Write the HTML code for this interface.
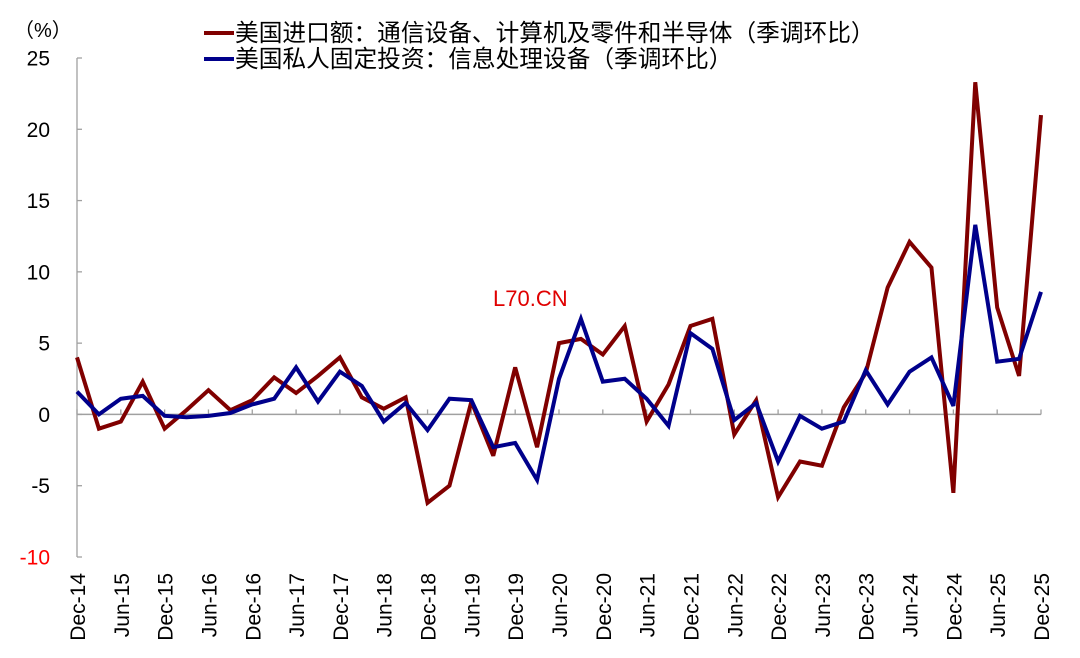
<!DOCTYPE html>
<html><head><meta charset="utf-8"><style>
html,body{margin:0;padding:0;background:#fff;}
svg{display:block;font-family:"Liberation Sans","Noto Sans CJK SC",sans-serif;}
</style></head><body>
<svg id="chart" width="1080" height="658" viewBox="0 0 1080 658">
<text x="14" y="37" font-size="20" fill="#000">（%）</text>
<g>
<line x1="204" y1="33" x2="234" y2="33" stroke="#800000" stroke-width="4"/>
<text x="235" y="41" font-size="23.7" fill="#000">美国进口额：通信设备、计算机及零件和半导体（季调环比）</text>
<line x1="204" y1="59" x2="234" y2="59" stroke="#00008B" stroke-width="4"/>
<text x="235" y="67" font-size="23.7" fill="#000">美国私人固定投资：信息处理设备（季调环比）</text>
</g>
<text x="493" y="306" font-size="22" fill="#e00000">L70.CN</text>
<g id="axes"></g>
<g id="series"></g>
</svg>
<script>
const categories = ["Dec-14","Mar-15","Jun-15","Sep-15","Dec-15","Mar-16","Jun-16","Sep-16","Dec-16","Mar-17","Jun-17","Sep-17","Dec-17","Mar-18","Jun-18","Sep-18","Dec-18","Mar-19","Jun-19","Sep-19","Dec-19","Mar-20","Jun-20","Sep-20","Dec-20","Mar-21","Jun-21","Sep-21","Dec-21","Mar-22","Jun-22","Sep-22","Dec-22","Mar-23","Jun-23","Sep-23","Dec-23","Mar-24","Jun-24","Sep-24","Dec-24","Mar-25","Jun-25","Sep-25","Dec-25"];
const importsSeries = [4.0,-1.0,-0.5,2.3,-1.0,0.3,1.7,0.3,1.0,2.6,1.5,2.7,4.0,1.2,0.4,1.2,-6.2,-5.0,0.9,-2.9,3.3,-2.3,5.0,5.3,4.2,6.2,-0.5,2.1,6.2,6.7,-1.4,1.0,-5.8,-3.3,-3.6,0.5,2.9,8.9,12.1,10.3,-5.5,23.3,7.5,2.7,21.0];
const investSeries = [1.6,0.0,1.1,1.3,-0.1,-0.2,-0.1,0.1,0.7,1.1,3.3,0.9,3.0,2.0,-0.5,0.8,-1.1,1.1,1.0,-2.3,-2.0,-4.6,2.5,6.7,2.3,2.5,1.1,-0.8,5.7,4.6,-0.4,0.8,-3.3,-0.1,-1.0,-0.5,3.1,0.7,3.0,4.0,0.6,13.3,3.7,3.9,8.6];
const yTicks = [25,20,15,10,5,0,-5,-10];

const NS="http://www.w3.org/2000/svg";
const X0=77,X1=1041,YT=58,YB=557,VMAX=25,VMIN=-10;
function xs(i){return X0+(X1-X0)*i/(categories.length-1);}
function ys(v){return YT+(VMAX-v)/(VMAX-VMIN)*(YB-YT);}
function mk(tag,attrs,parent){const e=document.createElementNS(NS,tag);for(const k in attrs)e.setAttribute(k,attrs[k]);parent.appendChild(e);return e;}
const axes=document.getElementById('axes');
let yl=mk('line',{x1:X0,y1:YT,x2:X0,y2:YB,stroke:'#a0a0a0','stroke-width':1.3},axes);


yTicks.forEach(v=>{
  const t=mk('line',{x1:X0,y1:ys(v),x2:X0+5,y2:ys(v),stroke:'#a0a0a0','stroke-width':1.3},axes);
  
  
  const l=mk('text',{x:50,y:ys(v)+7.5,'text-anchor':'end','font-size':21,fill:v===-10?'#ff0000':'#000'},axes);
  l.textContent=v;
  
  
});
let xl=mk('line',{x1:X0,y1:ys(0),x2:X1,y2:ys(0),stroke:'#a0a0a0','stroke-width':1.5},axes);


categories.forEach((c,i)=>{
  if(i%2!==0)return;
  const x=xs(i);
  const t=mk('line',{x1:x,y1:ys(0),x2:x,y2:ys(0)-5,stroke:'#a0a0a0','stroke-width':1.3},axes);
  
  
  const l=mk('text',{x:0,y:0,'text-anchor':'end','font-size':21,fill:'#000',transform:`translate(${x+8},573) rotate(-90)`},axes);
  l.textContent=c;
  
  
});
const series=document.getElementById('series');
function drawLine(vals,color,name){
  const p=mk('polyline',{points:vals.map((v,i)=>xs(i)+','+ys(v)).join(' '),fill:'none',stroke:color,'stroke-width':4,'stroke-linejoin':'miter','stroke-miterlimit':3},series);
  
  
}
drawLine(importsSeries,'#800000','imports-line');
drawLine(investSeries,'#00008B','investment-line');
</script>
</body></html>
